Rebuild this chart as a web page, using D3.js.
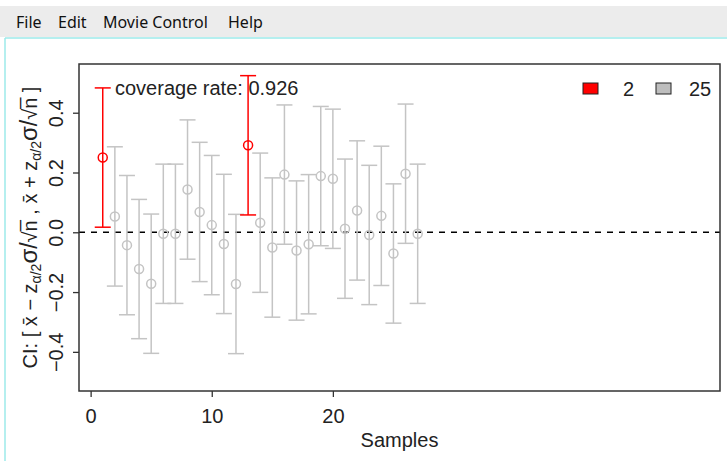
<!DOCTYPE html>
<html lang="en">
  <head>
    <meta charset="UTF-8" />
    <script src="https://d3js.org/d3.v7.min.js"></script>
    <title>Confidence intervals</title>
    <style type="text/css">
      body {
        margin: 0;
        background: #fff;
      }
      .menu text {
        font-family: 'Noto Sans', sans-serif;
        font-size: 16px;
        fill: #111;
      }
      .plot text {
        font-family: 'Liberation Sans', Arial, sans-serif;
        font-size: 20px;
        fill: #222;
      }
      .tick line {
        stroke: #333;
        stroke-width: 1.3;
      }
    </style>
  </head>
  <body>
    <svg width="727" height="461"></svg>
  </body>
  <script type="text/javascript">
    // sample means and interval ends
    const samples = d3.range(1, 28);
    const means = [
      0.25, 0.053, -0.043, -0.123, -0.172, -0.005, -0.005, 0.143, 0.068, 0.024, -0.039, -0.173, 0.291, 0.032,
      -0.051, 0.193, -0.061, -0.04, 0.188, 0.179, 0.012, 0.073, -0.009, 0.055, -0.071, 0.196, -0.005,
    ];
    const lower = [
      0.017, -0.18, -0.276, -0.356, -0.405, -0.238, -0.238, -0.09, -0.165, -0.209, -0.272, -0.406, 0.058, -0.201,
      -0.284, -0.04, -0.294, -0.273, -0.045, -0.054, -0.221, -0.16, -0.242, -0.178, -0.304, -0.037, -0.238,
    ];
    const upper = [
      0.483, 0.286, 0.19, 0.11, 0.061, 0.228, 0.228, 0.376, 0.301, 0.257, 0.194, 0.06, 0.524, 0.265, 0.182, 0.426,
      0.172, 0.193, 0.421, 0.412, 0.245, 0.306, 0.224, 0.288, 0.162, 0.429, 0.228,
    ];
    const covered = [
      false, true, true, true, true, true, true, true, true, true, true, true, false, true,
      true, true, true, true, true, true, true, true, true, true, true, true, true,
    ];
    const xTicks = [0, 10, 20];
    const yTicks = [-0.4, -0.2, 0, 0.2, 0.4];
    const menuItems = ['File', 'Edit', 'Movie Control', 'Help'];
    const menuX = [16, 58, 103, 228];
    const legendLabels = ['2', '25'];
    const coverageText = 'coverage rate: 0.926';

    const svg = d3.select('svg');

    // window chrome
    const menu = svg.append('g').attr('class', 'menu');
    menu.append('rect').attr('x', 0).attr('y', 6).attr('width', 727).attr('height', 31).attr('fill', '#ececec');
    menu.append('line').attr('x1', 5).attr('x2', 727).attr('y1', 38).attr('y2', 38).attr('stroke', '#9ceaea').attr('stroke-width', 1.5);
    menu.append('line').attr('x1', 5).attr('x2', 5).attr('y1', 38).attr('y2', 461).attr('stroke', '#9ceaea').attr('stroke-width', 1.5);
    menu
      .selectAll('text.item')
      .data(menuItems)
      .enter()
      .append('text')
      .attr('class', 'item')
      .attr('x', (d, i) => menuX[i])
      .attr('y', 28)
      .text((d) => d);

    const margin = { top: 64, right: 7, bottom: 70, left: 79 };
    const g = svg.append('g').attr('class', 'plot');
    const x = d3.scaleLinear().domain([-0.96, 51.96]).range([margin.left, 727 - margin.right]);
    const y = d3.scaleLinear().domain([-0.531, 0.563]).range([461 - margin.bottom, margin.top]);
    const color = (ok) => (ok ? '#c4c4c4' : '#ff0000');

    // zero line
    g.append('line')
      .attr('x1', x.range()[0])
      .attr('x2', x.range()[1])
      .attr('y1', y(0))
      .attr('y2', y(0))
      .attr('stroke', '#000')
      .attr('stroke-width', 1.4)
      .attr('stroke-dasharray', '6,6');

    // intervals
    const bars = g.selectAll('g.ci').data(samples).enter().append('g').attr('class', 'ci');
    bars
      .append('line')
      .attr('x1', (d) => x(d))
      .attr('x2', (d) => x(d))
      .attr('y1', (d, i) => y(lower[i]))
      .attr('y2', (d, i) => y(upper[i]))
      .attr('stroke', (d, i) => color(covered[i]))
      .attr('stroke-width', 1.5);
    ['lo', 'hi'].forEach((end) => {
      bars
        .append('line')
        .attr('x1', (d) => x(d) - 8)
        .attr('x2', (d) => x(d) + 8)
        .attr('y1', (d, i) => y(end === 'lo' ? lower[i] : upper[i]))
        .attr('y2', (d, i) => y(end === 'lo' ? lower[i] : upper[i]))
        .attr('stroke', (d, i) => color(covered[i]))
        .attr('stroke-width', 1.5);
    });
    bars
      .append('circle')
      .attr('cx', (d) => x(d))
      .attr('cy', (d, i) => y(means[i]))
      .attr('r', 4.5)
      .attr('fill', 'none')
      .attr('stroke', (d, i) => color(covered[i]))
      .attr('stroke-width', 1.5);

    // box
    g.append('rect')
      .attr('x', x.range()[0])
      .attr('y', y.range()[1])
      .attr('width', x.range()[1] - x.range()[0])
      .attr('height', y.range()[0] - y.range()[1])
      .attr('fill', 'none')
      .attr('stroke', '#333')
      .attr('stroke-width', 1.5);

    // axes
    const xAxis = g
      .append('g')
      .attr('transform', `translate(0, ${y.range()[0]})`)
      .call(d3.axisBottom(x).tickValues(xTicks).tickSize(6));
    xAxis.select('.domain').remove();
    xAxis.selectAll('text').attr('dy', null).attr('y', 32).attr('fill', '#222');

    const yAxis = g
      .append('g')
      .attr('transform', `translate(${x.range()[0]}, 0)`)
      .call(d3.axisLeft(y).tickValues(yTicks).tickSize(6).tickFormat(d3.format('.1f')));
    yAxis.select('.domain').remove();
    yAxis
      .selectAll('text')
      .attr('x', null)
      .attr('dy', null)
      .attr('text-anchor', 'middle')
      .attr('transform', 'translate(-16,0) rotate(-90)')
      .attr('fill', '#222');

    // axis labels
    g.append('text')
      .attr('x', (x.range()[0] + x.range()[1]) / 2)
      .attr('y', 447)
      .attr('text-anchor', 'middle')
      .text('Samples');

    const yl = g
      .append('text')
      .attr('text-anchor', 'middle')
      .attr('transform', `translate(37, ${(y.range()[0] + y.range()[1]) / 2}) rotate(-90)`);
    const half = (sign) => {
      yl.append('tspan').text(`x\u0304 ${sign} z`);
      yl.append('tspan').attr('font-size', 14).attr('dy', 4).text('\u03b1/2');
      yl.append('tspan').attr('dy', -4).attr('font-size', 24).text('\u03c3');
      yl.append('tspan').attr('font-size', 23).text('/');
      yl.append('tspan').text('\u221an\u0305');
    };
    yl.append('tspan').text('CI: [ ');
    half('\u2212');
    yl.append('tspan').text(' ,  ');
    half('+');
    yl.append('tspan').text(' ]');

    // coverage note
    g.append('text').attr('x', 115).attr('y', 95).text(coverageText);

    // legend
    const legendBoxX = [583, 656];
    const legendTextX = [623, 689];
    const legendFill = ['#ff0000', '#bebebe'];
    legendLabels.forEach((lab, i) => {
      g.append('rect')
        .attr('x', legendBoxX[i])
        .attr('y', 83)
        .attr('width', 15)
        .attr('height', 11)
        .attr('fill', legendFill[i])
        .attr('stroke', '#222')
        .attr('stroke-width', 1);
      g.append('text').attr('x', legendTextX[i]).attr('y', 96).text(lab);
    });
  </script>
</html>
